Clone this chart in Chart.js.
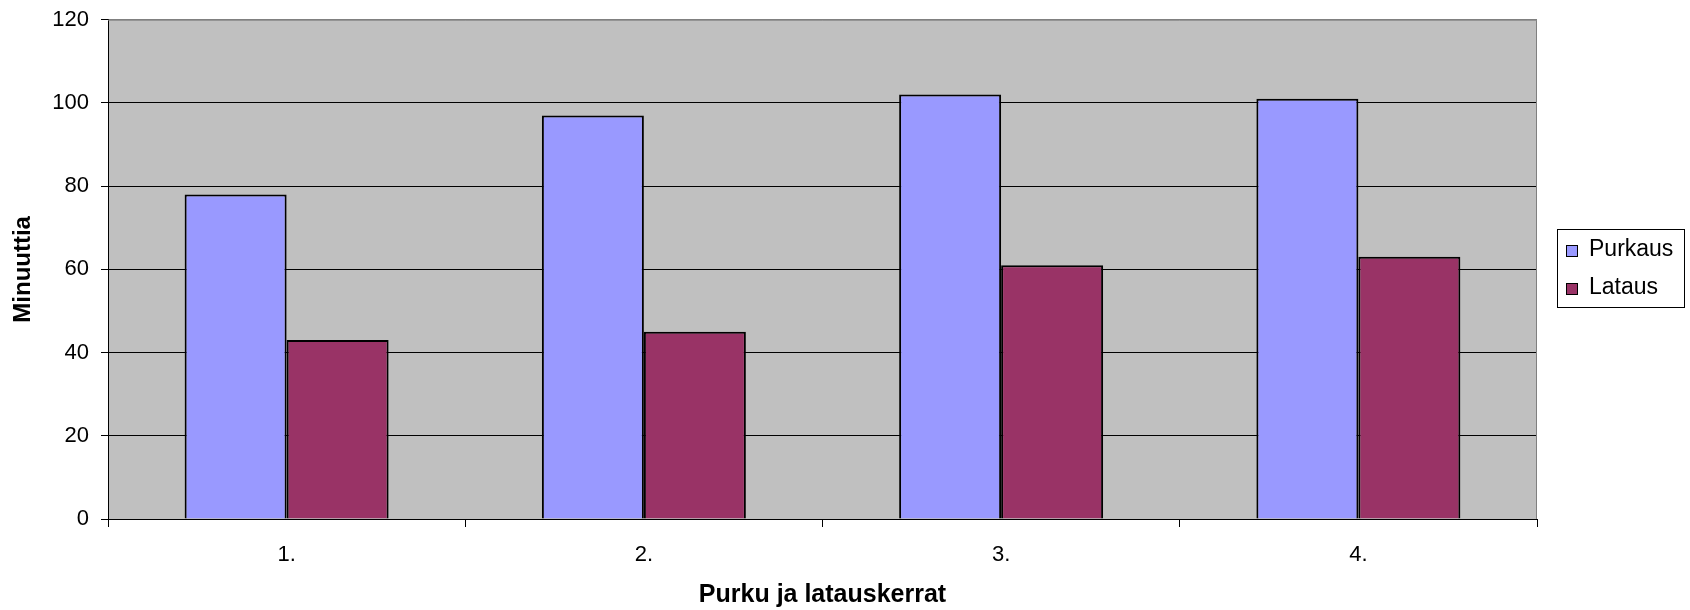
<!DOCTYPE html>
<html>
<head>
<meta charset="utf-8">
<script src="https://cdn.jsdelivr.net/npm/chart.js@4/dist/chart.umd.min.js"></script>
<style>
  html, body { margin: 0; padding: 0; background: #ffffff; }
  #wrap { width: 1690px; height: 610px; }
</style>
</head>
<body>
<div id="wrap"><canvas id="kaavio" width="1690" height="610"></canvas></div>
<script>
// data
const categories = ['1.', '2.', '3.', '4.'];
const purkaus = [78, 97, 102, 101];
const lataus = [43, 45, 61, 63];
const seriesNames = ['Purkaus', 'Lataus'];
const yTicks = [0, 20, 40, 60, 80, 100, 120];

const FONT = '"Liberation Sans", Arial, sans-serif';

// gray plot background + gray top/right frame
const plotFrame = {
    id: 'plotFrame',
    beforeDraw(chart) {
        const { ctx, chartArea: a } = chart;
        ctx.save();
        ctx.fillStyle = '#C0C0C0';
        ctx.fillRect(a.left, a.top, a.right - a.left, a.bottom - a.top);
        ctx.restore();
    },
    afterDraw(chart) {
        const { ctx, chartArea: a } = chart;
        ctx.save();
        ctx.strokeStyle = '#808080';
        ctx.lineWidth = 1;
        ctx.beginPath();
        ctx.moveTo(a.left, a.top + 0.5);
        ctx.lineTo(a.right - 0.5, a.top + 0.5);
        ctx.lineTo(a.right - 0.5, a.bottom);
        ctx.stroke();
        ctx.restore();
    }
};

// legend box on the right, like the original
const boxLegend = {
    id: 'boxLegend',
    afterDraw(chart) {
        const { ctx } = chart;
        const x0 = 1557, y0 = 229, w = 128, h = 79;
        ctx.save();
        ctx.fillStyle = '#ffffff';
        ctx.fillRect(x0, y0, w, h);
        ctx.strokeStyle = '#000000';
        ctx.lineWidth = 1;
        ctx.strokeRect(x0 + 0.5, y0 + 0.5, w - 1, h - 1);
        ctx.font = '23px ' + FONT;
        ctx.textBaseline = 'middle';
        ctx.textAlign = 'left';
        chart.data.datasets.forEach((ds, i) => {
            const cy = y0 + 21 + i * 38;
            ctx.fillStyle = ds.backgroundColor;
            ctx.fillRect(x0 + 9, cy - 5, 12, 12);
            ctx.strokeStyle = '#000000';
            ctx.strokeRect(x0 + 9.5, cy - 4.5, 11, 11);
            ctx.fillStyle = '#000000';
            ctx.fillText(ds.label, x0 + 32, cy);
        });
        ctx.restore();
    }
};

const ctx = document.getElementById('kaavio').getContext('2d');
new Chart(ctx, {
    type: 'bar',
    data: {
        labels: categories,
        datasets: [
            {
                label: seriesNames[0],
                data: purkaus,
                backgroundColor: '#9999FF',
                borderColor: '#000000',
                borderWidth: 2
            },
            {
                label: seriesNames[1],
                data: lataus,
                backgroundColor: '#993366',
                borderColor: '#000000',
                borderWidth: 2
            }
        ]
    },
    options: {
        responsive: false,
        devicePixelRatio: 1,
        animation: false,
        layout: { padding: { left: 0, top: 19, right: 153, bottom: 0 } },
        datasets: {
            bar: { categoryPercentage: 0.571, barPercentage: 1.0 }
        },
        plugins: {
            legend: { display: false },
            tooltip: { enabled: false }
        },
        scales: {
            x: {
                offset: true,
                afterFit(scale) { scale.height = 91; },
                grid: {
                    offset: true,
                    drawOnChartArea: false,
                    drawTicks: true,
                    tickLength: 8,
                    tickColor: '#000000',
                    color: '#000000'
                },
                border: { color: '#000000', width: 1 },
                ticks: {
                    color: '#000000',
                    font: { family: FONT, size: 22 },
                    padding: 15
                },
                title: {
                    display: true,
                    text: 'Purku ja latauskerrat',
                    color: '#000000',
                    font: { family: FONT, size: 25, weight: 'bold' },
                    padding: { top: 0, bottom: 0 }
                }
            },
            y: {
                min: 0,
                max: 120,
                afterFit(scale) { scale.width = 108; },
                afterBuildTicks(scale) {
                    scale.ticks = yTicks.map(v => ({ value: v }));
                },
                grid: {
                    color: (c) => (c.tick && c.tick.value === 120 ? '#808080' : '#000000'),
                    tickColor: '#000000',
                    lineWidth: 1,
                    drawTicks: true,
                    tickLength: 7
                },
                border: { color: '#000000', width: 1 },
                ticks: {
                    color: '#000000',
                    font: { family: FONT, size: 22, lineHeight: 0.7 },
                    padding: 12
                },
                title: {
                    display: true,
                    text: 'Minuuttia',
                    color: '#000000',
                    font: { family: FONT, size: 24, weight: 'bold' },
                    padding: { top: 9, bottom: 0 }
                }
            }
        }
    },
    plugins: [plotFrame, boxLegend]
});
</script>
</body>
</html>
